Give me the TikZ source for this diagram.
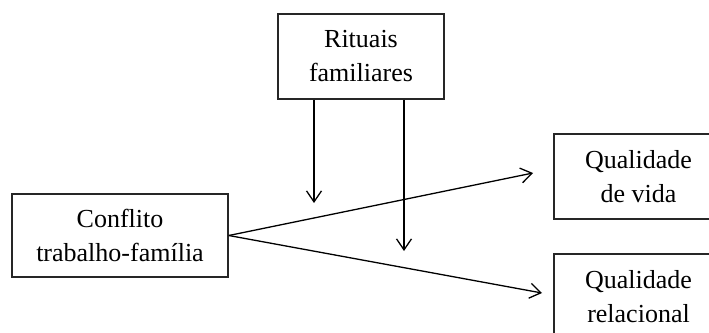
\documentclass[tikz,border=0pt]{standalone}
\usepackage{fontspec}
\setmainfont{Liberation Serif}
\usetikzlibrary{arrows.meta}
\begin{document}
\begin{tikzpicture}[x=1pt,y=-1pt,
  box/.style={draw=black!85,line width=1.6pt,inner sep=0pt,align=center,
    font=\fontsize{26}{34}\selectfont},
  arr/.style={line width=1.3pt,-{Straight Barb[length=11pt,width=15pt,line width=1.3pt]}}]
\useasboundingbox (0,0) rectangle (709,332);
\node[box,minimum width=166pt,minimum height=85pt] (rit) at (361,56.5) {Rituais\\familiares};
\node[box,minimum width=216pt,minimum height=83pt] (con) at (120,235.5) {Conflito\\trabalho-família};
\node[box,minimum width=169pt,minimum height=85pt] (qv) at (638.5,176.5) {Qualidade\\de vida};
\node[box,minimum width=169pt,minimum height=85pt] (qr) at (638.5,296.5) {Qualidade\\relacional};
\coordinate (m1) at (314,203);
\coordinate (m2) at (404,251);
\coordinate (t1) at (533,173);
\coordinate (t2) at (542,293);
\draw[arr] (rit.south -| m1) -- (m1);
\draw[arr] (rit.south -| m2) -- (m2);
\draw[arr] (con.east) -- (t1);
\draw[arr] (con.east) -- (t2);
\end{tikzpicture}
\end{document}
